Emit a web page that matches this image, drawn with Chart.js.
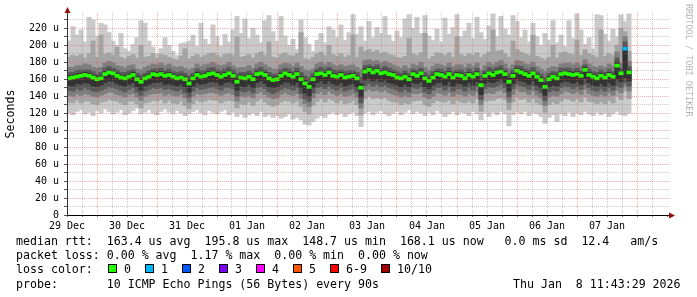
<!DOCTYPE html>
<html>
<head>
<meta charset="utf-8">
<script src="https://cdn.jsdelivr.net/npm/chart.js@4.4.1/dist/chart.umd.min.js"></script>
<style>
  body { margin: 0; background: #fff; }
  #wrap { position: relative; width: 697px; height: 297px; overflow: hidden; font-family: "DejaVu Sans Mono", monospace; }
  #wrap canvas { position: absolute; left: 0; top: 0; }
  .txt { position: absolute; white-space: pre; font-size: 11.6px; line-height: 14px; color: #000; }
  .box { position: absolute; width: 7px; height: 7px; border: 1px solid #000; }
  #credit { position: absolute; left: 684px; top: 4px; writing-mode: vertical-rl; font-size: 8.5px; line-height: 10px; color: #b4b4b4; white-space: pre; }
</style>
</head>
<body>
<div id="wrap">
  <canvas id="smoke" width="697" height="297"></canvas>
  <div id="credit">RRDTOOL / TOBI OETIKER</div>
  <div class="txt" style="left:16px;top:234px">median rtt:  163.4 us avg  195.8 us max  148.7 us min  168.1 us now   0.0 ms sd  12.4   am/s</div>
  <div class="txt" style="left:16px;top:248px">packet loss: 0.00 % avg  1.17 % max  0.00 % min  0.00 % now</div>
  <div class="txt" style="left:16px;top:262px">loss color:</div>
  <div class="txt" style="left:16px;top:277px">probe:       10 ICMP Echo Pings (56 Bytes) every 90s</div>
  <div class="txt" style="left:513px;top:277px">Thu Jan  8 11:43:29 2026</div>
</div>
<script>
// x axis: hours since 29 Dec 00:00, one smoke column every 1.6 h
const dayLabels = ['29 Dec', '30 Dec', '31 Dec', '01 Jan', '02 Jan', '03 Jan', '04 Jan', '05 Jan', '06 Jan', '07 Jan'];
const yTickLabels = ['0', '20 u', '40 u', '60 u', '80 u', '100 u', '120 u', '140 u', '160 u', '180 u', '200 u', '220 u'];

// median rtt per column (us)
const medianRtt = [
  161,162,163,164,165,164,162,160,161,166, 168,167,164,162,161,163,165,160,157,161,
  163,166,165,166,164,165,163,161,162,160, 155,161,165,163,164,166,167,165,163,165,
  167,164,157,162,161,163,160,166,167,165, 161,159,160,164,167,165,163,166,160,155,
  151,160,166,167,165,168,164,163,165,162, 163,164,161,150,169,171,168,170,167,168,
  166,165,162,161,163,160,166,164,167,161, 158,162,166,165,163,166,162,165,164,161,
  165,163,166,153,164,167,165,168,169,166, 157,164,170,168,166,164,167,163,159,151,
  160,163,161,166,167,166,165,166,164,171, 165,163,161,164,162,165,163,176,167,196,
  168];

// sorted pings per column, ping1 = fastest ... ping10 = slowest (us)
const ping1 = [
  120,118,122,124,119,121,117,123,120,125, 122,119,121,124,118,120,123,126,119,121,
  124,120,118,122,125,121,119,123,120,117, 119,122,124,120,118,123,121,119,122,124,
  118,121,116,119,115,118,120,117,122,116, 118,115,117,114,116,119,113,115,112,107,
  106,110,114,117,115,119,121,118,120,116, 119,121,117,104,120,122,118,121,123,119,
  117,120,122,118,121,124,119,122,120,117, 121,118,123,120,116,119,122,118,121,120,
  117,122,119,112,120,116,121,118,122,119, 105,118,121,119,122,117,120,119,116,108,
  115,118,110,119,117,121,116,120,118,122, 119,117,121,118,120,116,119,122,118,117,
  120];
const ping2 = [
  133,132,135,132,134,134,131,130,133,134, 136,135,134,132,130,134,134,131,126,132,
  133,135,134,136,132,135,132,131,134,129, 125,131,135,133,134,136,135,135,132,134,
  135,134,126,131,130,133,129,134,137,133, 130,128,130,133,135,134,132,134,128,122,
  119,129,134,137,133,137,135,132,135,131, 132,135,130,118,137,140,137,138,137,138,
  135,133,133,130,132,131,134,135,135,130, 128,132,135,134,133,135,131,135,133,132,
  134,132,137,122,134,135,135,137,138,136, 124,133,139,136,137,133,137,132,130,121,
  130,133,131,134,137,136,134,137,133,139, 134,133,131,133,131,135,132,140,136,146,
  137];
const ping3 = [
  141,140,143,141,143,142,140,139,141,143, 145,144,142,141,139,142,143,139,135,140,
  142,143,143,144,141,143,141,140,142,138, 133,140,143,142,143,144,144,143,141,143,
  144,142,134,140,139,141,138,143,145,142, 139,137,138,142,144,142,141,143,137,131,
  128,138,143,145,142,146,143,141,143,140, 141,143,139,126,146,148,146,147,145,147,
  144,142,141,139,141,139,143,143,144,139, 137,140,144,143,141,144,140,143,142,140,
  143,141,145,130,143,144,143,146,147,144, 133,142,148,145,145,142,146,141,138,129,
  139,141,140,143,146,145,143,145,142,148, 143,141,140,142,140,144,141,147,144,152,
  146];
const ping4 = [
  147,146,149,147,150,148,146,145,147,149, 151,150,149,147,145,148,150,145,141,146,
  148,150,149,150,148,149,147,146,148,144, 139,146,150,148,149,150,151,149,147,150,
  150,149,140,146,145,147,144,150,151,149, 145,143,145,148,150,149,147,150,143,137,
  134,144,150,151,149,152,149,147,150,146, 148,149,145,132,152,155,152,154,151,153,
  150,149,147,145,148,145,150,149,151,145, 143,147,150,150,147,151,146,149,149,146,
  150,147,151,136,149,151,150,152,154,150, 139,149,154,152,151,148,152,147,144,135,
  145,147,146,150,152,151,149,151,148,154, 150,147,146,149,146,150,147,152,150,156,
  152];
const ping5 = [
  153,152,155,154,156,155,152,151,153,156, 158,157,155,153,152,154,156,151,147,152,
  154,156,156,157,154,155,153,152,154,151, 145,152,156,154,155,157,157,156,153,156,
  157,155,147,152,151,154,150,156,158,155, 151,150,151,154,157,156,153,156,150,144,
  140,150,156,158,155,158,155,153,156,152, 154,155,151,139,159,161,158,160,157,159,
  156,155,153,151,154,151,156,155,157,151, 149,153,156,156,153,157,152,155,155,152,
  156,153,157,142,155,157,156,158,160,156, 146,155,160,158,157,154,158,153,150,141,
  151,153,152,156,158,157,155,157,154,161, 156,153,152,155,152,156,153,160,157,162,
  158];
const ping6 = [
  164,165,166,167,168,167,165,163,164,169, 171,170,167,165,164,166,168,163,160,164,
  166,169,168,169,167,168,166,164,165,163, 159,164,168,166,167,169,170,168,166,168,
  170,167,161,165,164,166,163,169,170,168, 164,162,163,167,170,168,166,169,163,159,
  156,163,169,170,168,171,167,166,168,165, 166,167,164,155,172,174,171,173,170,171,
  169,168,165,164,166,163,169,167,170,164, 161,165,169,168,166,169,165,168,167,164,
  168,166,169,158,167,170,168,171,172,169, 161,167,173,171,169,167,170,166,162,156,
  163,166,164,169,170,169,168,169,167,174, 168,166,164,167,165,168,166,180,170,198,
  171];
const ping7 = [
  168,168,170,171,171,171,169,166,168,173, 175,173,171,168,168,170,171,167,165,167,
  170,172,172,173,170,172,169,168,169,167, 164,167,172,170,170,173,174,171,170,172,
  174,171,166,168,168,170,167,172,174,171, 168,166,166,171,173,172,169,173,168,164,
  162,167,172,174,172,174,171,170,171,169, 170,170,168,162,176,177,175,177,173,175,
  173,171,169,167,170,167,172,171,173,168, 165,169,172,172,169,173,169,171,171,168,
  172,169,173,164,170,174,172,174,176,172, 166,171,176,175,172,171,174,169,166,162,
  167,169,168,173,173,173,171,173,170,177, 172,169,168,171,168,172,169,185,173,204,
  175];
const ping8 = [
  174,174,176,176,178,177,174,173,174,179, 181,179,176,175,173,176,177,172,171,174,
  176,178,177,179,176,178,175,174,175,173, 171,173,178,175,177,178,180,177,176,177,
  180,176,173,174,174,176,173,178,180,177, 174,172,172,177,179,178,175,179,175,171,
  170,172,178,180,177,180,177,175,177,175, 176,177,174,171,182,183,181,182,179,181,
  179,177,175,173,176,173,178,176,180,174, 171,175,178,177,175,179,175,177,177,174,
  178,175,179,171,176,180,177,180,182,178, 173,177,182,181,178,177,180,175,172,169,
  173,175,174,178,179,179,177,179,176,183, 178,175,174,176,174,178,175,192,179,210,
  181];
const ping9 = [
  186,188,187,189,185,190,205,186,212,189, 191,188,198,186,184,187,189,185,200,186,
  187,190,185,189,188,186,184,183,187,196, 184,187,189,186,188,190,191,188,186,189,
  190,188,210,186,187,189,185,190,192,188, 204,186,185,189,191,188,187,190,215,184,
  183,186,190,192,188,200,189,187,190,186, 188,212,186,198,193,195,192,194,190,192,
  189,188,186,185,187,208,190,188,191,214, 184,187,191,190,188,191,186,210,189,187,
  190,188,191,186,189,192,218,193,194,190, 186,205,195,192,190,188,212,187,185,183,
  186,200,185,191,192,190,189,206,188,195, 190,188,186,218,187,190,188,200,220,216,
  193];
const ping10 = [
  205,222,212,218,204,233,230,210,226,224, 215,205,200,214,196,193,201,209,229,226,
  205,198,190,196,209,200,193,188,202,203, 205,212,199,226,207,201,224,210,199,213,
  204,218,234,214,231,208,220,212,203,229, 235,216,205,234,211,200,207,195,230,209,
  201,193,206,214,203,222,218,209,224,206, 215,236,213,222,205,228,209,221,214,234,
  212,205,217,209,231,236,220,233,214,235, 211,206,219,204,232,213,221,236,210,217,
  226,208,233,215,207,223,237,210,234,219, 212,235,228,209,218,204,226,210,200,214,
  206,229,203,212,199,229,208,237,218,201, 209,196,236,235,213,205,219,210,236,228,
  237];

// columns with packet loss (pings lost out of 10)
const lossColumns = [139];
const lossCounts = [1];

const lossLabels = ['0', '1', '2', '3', '4', '5', '6-9', '10/10'];
const lossColors = ['#26ff00', '#00b8ff', '#0059ff', '#7e00ff', '#ff00ff', '#ff5500', '#ff0000', '#a00000'];

const colHours = 1.6;
const medianHalf = 1.8;

function lossColor(n) {
  if (n >= 10) return lossColors[7];
  if (n >= 6) return lossColors[6];
  return lossColors[n];
}

function band(lo, hi) {
  return lo.map((v, i) => ({ x: i * colHours + colHours / 2, y: [v, hi[i]] }));
}

function smoke(lo, hi, color, order) {
  return { type: 'bar', data: band(lo, hi), backgroundColor: color, order: order,
           barThickness: 4.4, grouped: false, borderWidth: 0 };
}

const medianColors = medianRtt.map((m, i) => {
  const k = lossColumns.indexOf(i);
  return lossColor(k < 0 ? 0 : lossCounts[k]);
});

const majorGrid = 'rgba(255,60,60,0.42)';
const minorGrid = 'rgba(130,130,130,0.42)';
const none = 'rgba(0,0,0,0)';

function xGridColor(c) {
  if (!c.tick) return none;
  const v = c.tick.value;
  if (v === 0 || v > 237) return none;
  return v % 24 === 12 ? majorGrid : minorGrid;
}

function yGridColor(c) {
  if (!c.tick) return none;
  const v = c.tick.value;
  if (v === 0) return none;
  return v % 20 === 0 ? majorGrid : minorGrid;
}

const arrows = {
  id: 'arrows',
  afterDraw(chart) {
    const ctx = chart.ctx;
    const a = chart.chartArea;
    const x0 = Math.round(a.left) + 0.5;
    const y0 = Math.round(a.bottom) + 0.5;
    ctx.save();
    ctx.fillStyle = '#8b1010';
    ctx.beginPath();
    ctx.moveTo(x0 - 3, a.top);
    ctx.lineTo(x0 + 3, a.top);
    ctx.lineTo(x0, a.top - 6);
    ctx.closePath();
    ctx.fill();
    ctx.beginPath();
    ctx.moveTo(a.right, y0 - 3);
    ctx.lineTo(a.right, y0 + 3);
    ctx.lineTo(a.right + 6, y0);
    ctx.closePath();
    ctx.fill();
    ctx.restore();
  }
};

Chart.defaults.font.family = '"DejaVu Sans Mono", monospace';
Chart.defaults.color = '#000';

new Chart('smoke', {
  data: {
    datasets: [
      { type: 'bar', label: 'median', data: band(medianRtt.map(m => m - medianHalf), medianRtt.map(m => m + medianHalf)),
        backgroundColor: medianColors, order: 0, barThickness: 4.4, grouped: false, borderWidth: 0 },
      smoke(ping5, ping6, '#323232', 1),
      smoke(ping4, ping7, '#585858', 2),
      smoke(ping3, ping8, '#7e7e7e', 3),
      smoke(ping2, ping9, '#a4a4a4', 4),
      smoke(ping1, ping10, '#cacaca', 5)
    ]
  },
  options: {
    responsive: false,
    animation: false,
    events: [],
    devicePixelRatio: 1,
    layout: { padding: { left: 0, top: 13, right: 28, bottom: 60 } },
    plugins: { legend: { display: false }, tooltip: { enabled: false } },
    scales: {
      x: {
        type: 'linear', min: 0, max: 240.8, offset: false,
        afterFit(s) { s.height = 22; },
        ticks: {
          stepSize: 6, includeBounds: false, autoSkip: false, maxRotation: 0, padding: 3,
          font: { size: 10 },
          callback: v => (v % 24 === 0 && v / 24 < dayLabels.length) ? dayLabels[v / 24] : ''
        },
        grid: { z: 1, offset: false, tickLength: 2, tickColor: '#777', color: xGridColor },
        border: { z: 2, color: '#000', width: 1, dash: [1, 1] }
      },
      y: {
        type: 'linear', min: 0, max: 238,
        afterFit(s) { s.width = 67; },
        title: { display: true, text: 'Seconds', font: { size: 11.6 }, padding: { top: 4, bottom: 0 } },
        ticks: {
          stepSize: 10, includeBounds: false, autoSkip: false, padding: 5,
          font: { size: 10 },
          callback: v => v % 20 === 0 ? yTickLabels[v / 20] : ''
        },
        grid: { z: 1, tickLength: 3, tickColor: '#555', color: yGridColor },
        border: { z: 2, color: '#333', width: 1, dash: [1, 1] }
      }
    }
  },
  plugins: [arrows]
});

// loss colour legend boxes
const wrap = document.getElementById('wrap');
let bx = 108;
lossLabels.forEach((lab, k) => {
  const b = document.createElement('div');
  b.className = 'box';
  b.style.left = bx + 'px';
  b.style.top = '264px';
  b.style.background = lossColors[k];
  wrap.appendChild(b);
  const t = document.createElement('div');
  t.className = 'txt';
  t.style.left = (bx + 16) + 'px';
  t.style.top = '262px';
  t.textContent = lab;
  wrap.appendChild(t);
  bx += 16 + 7 * lab.length + 14;
});
</script>
</body>
</html>
